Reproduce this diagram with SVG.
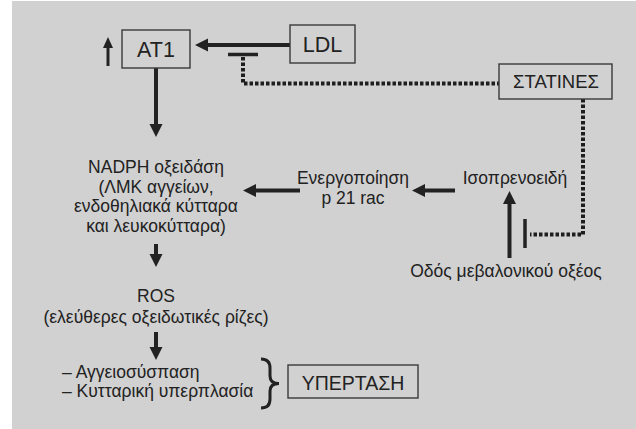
<svg xmlns="http://www.w3.org/2000/svg" width="636" height="429" viewBox="0 0 636 429">
<style>
.bg{fill:#d1d1d1}
.box{fill:none;stroke:#3a3a3a;stroke-width:1.4}
.t{font-family:"Liberation Sans",Arial,sans-serif;font-size:17.5px;fill:#222}
.c{text-anchor:middle}
.big{font-size:21.5px}
.mid{font-size:18.5px}
.hy{font-size:19.5px}
.arr{stroke:#222;stroke-width:4;fill:none;marker-end:url(#ah)}
.arrs{stroke:#222;stroke-width:3;fill:none;marker-end:url(#ahs)}
.dot{stroke:#1e1e1e;stroke-width:4;fill:none;stroke-dasharray:3.5 2}
.bar{stroke:#222;stroke-width:3.5;fill:none}
</style>
<defs>
<marker id="ah" markerUnits="userSpaceOnUse" markerWidth="14" markerHeight="14" refX="3" refY="6.5" orient="auto" viewBox="0 0 14 14">
<path d="M0,0 L13,6.5 L0,13 z" fill="#222"/>
</marker>
<marker id="ahs" markerUnits="userSpaceOnUse" markerWidth="12" markerHeight="12" refX="3" refY="5" orient="auto" viewBox="0 0 12 12">
<path d="M0,0 L11,5 L0,10 z" fill="#222"/>
</marker>
</defs>
<rect class="bg" x="12" y="1" width="624" height="428"/>

<g id="connectors">
<line class="arrs" x1="108" y1="66" x2="108" y2="45"/>
<line class="arr" x1="290" y1="45" x2="205" y2="45"/>
<line class="bar" x1="228" y1="54.5" x2="258" y2="54.5"/>
<polyline class="dot" points="243,57 243,83.5 499,83.5"/>
<polyline class="dot" points="583,99 583,234.5 530,234.5"/>
<line class="bar" x1="525" y1="219" x2="525" y2="248"/>
<line class="arr" x1="156" y1="68" x2="156" y2="127"/>
<line class="arr" x1="509.5" y1="258" x2="509.5" y2="201"/>
<line class="arr" x1="455" y1="190.5" x2="422" y2="190.5"/>
<line class="arr" x1="300" y1="190.5" x2="253" y2="190.5"/>
<line class="arr" x1="156" y1="244" x2="156" y2="257"/>
<line class="arr" x1="156" y1="332" x2="156" y2="350"/>
<path d="M261,359 Q270,359 270,368 L270,376 Q270,383.5 279,383.5 Q270,383.5 270,391 L270,399 Q270,408 261,408" fill="none" stroke="#222" stroke-width="3"/>
</g>

<g id="at1">
<rect class="box" x="122" y="30" width="68" height="38"/>
<text class="t big c" x="156" y="57">AT1</text>
</g>
<g id="ldl">
<rect class="box" x="290" y="25" width="65" height="38"/>
<text class="t big c" x="322.5" y="52">LDL</text>
</g>
<g id="statines">
<rect class="box" x="499" y="64" width="113" height="35"/>
<text class="t mid c" x="556" y="88">ΣΤΑΤΙΝΕΣ</text>
</g>
<g id="nadph">
<text class="t c" x="156" y="173">NADPH οξειδάση</text>
<text class="t c" x="156" y="193">(ΛΜΚ αγγείων,</text>
<text class="t c" x="156" y="212">ενδοθηλιακά κύτταρα</text>
<text class="t c" x="156" y="232">και λευκοκύτταρα)</text>
</g>
<g id="p21rac">
<text class="t c" x="353" y="184">Ενεργοποίηση</text>
<text class="t c" x="353" y="204">p 21 rac</text>
</g>
<g id="isoprenoids">
<text class="t c" x="515" y="184">Ισοπρενοειδή</text>
</g>
<g id="mevalonate">
<text class="t c" x="506" y="277">Οδός μεβαλονικού οξέος</text>
</g>
<g id="ros">
<text class="t c" x="156" y="302">ROS</text>
<text class="t c" x="156" y="323">(ελεύθερες οξειδωτικές ρίζες)</text>
</g>
<g id="effects">
<text class="t" x="62" y="378">– Αγγειοσύσπαση</text>
<text class="t" x="62" y="397">– Κυτταρική υπερπλασία</text>
</g>
<g id="hypertension">
<rect class="box" x="288" y="365" width="130" height="33"/>
<text class="t hy c" x="353" y="390">ΥΠΕΡΤΑΣΗ</text>
</g>
</svg>
